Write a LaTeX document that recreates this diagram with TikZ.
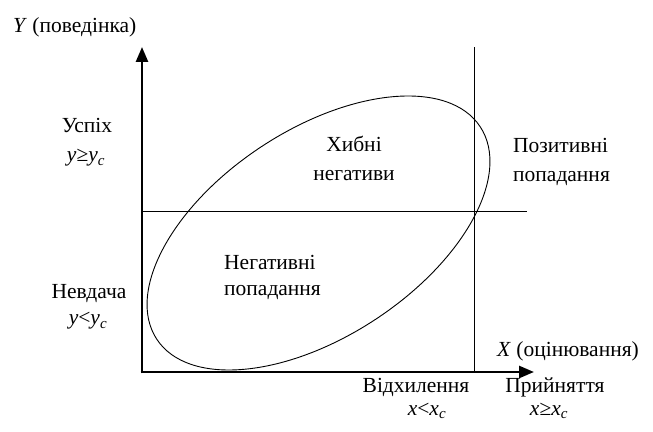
\documentclass[tikz,border=0pt]{standalone}
\usepackage{fontspec}
\setmainfont{Liberation Serif}
\usetikzlibrary{arrows.meta}
\tikzset{
  lbl/.style={inner sep=0pt, font=\fontsize{21.5}{26}\selectfont},
  axis/.style={line width=2.6pt, -{Triangle[length=15pt,width=12pt]}},
  thinline/.style={line width=0.9pt},
}
\begin{document}
\begin{tikzpicture}[x=1pt,y=1pt]
\useasboundingbox (0,0) rectangle (653,431);
% coordinates
\coordinate (O) at (142,59);
\coordinate (Ytip) at (142,384);
\coordinate (Xtip) at (534,59);
\coordinate (Vb) at (474,59);
\coordinate (Vt) at (474,384);
\coordinate (Hl) at (142,220);
\coordinate (Hr) at (527,220);
% ellipse
\draw[thinline, rotate around={33.3:(318.5,198)}] (318.5,198) ellipse [x radius=193.5, y radius=103.5];
% lines
\draw[thinline] (Vb) -- (Vt);
\draw[thinline] (Hl) -- (Hr);
% axes
\draw[axis] ([yshift=-1.3pt]O) -- (Ytip);
\draw[axis] ([xshift=-1.3pt]O) -- (Xtip);
% labels
\node[lbl, anchor=base west] (ylab) at (13,398) {\textit{Y} (поведінка)};
\node[lbl, anchor=base west] (xlab) at (497,74) {\textit{X} (оцінювання)};
\node[lbl, anchor=base] (usp) at (87,298) {Успіх};
\node[lbl, anchor=base] (uspm) at (86,269) {\textit{y}≥\textit{y}\textsubscript{\textit{c}}};
\node[lbl, anchor=base] (nev) at (89,132) {Невдача};
\node[lbl, anchor=base] (nevm) at (88,106) {\textit{y}<\textit{y}\textsubscript{\textit{c}}};
\node[lbl, anchor=base] (hyb) at (354,279) {Хибні};
\node[lbl, anchor=base] (neg) at (354,250) {негативи};
\node[lbl, anchor=base west] (negp) at (224,161) {Негативні};
\node[lbl, anchor=base west] (negp2) at (224,135) {попадання};
\node[lbl, anchor=base west] (poz) at (513,278) {Позитивні};
\node[lbl, anchor=base west] (poz2) at (513,249) {попадання};
\node[lbl, anchor=base] (vid) at (416,38) {Відхилення};
\node[lbl, anchor=base] (vidm) at (427,16) {\textit{x}<\textit{x}\textsubscript{\textit{c}}};
\node[lbl, anchor=base] (pry) at (555,38) {Прийняття};
\node[lbl, anchor=base] (prym) at (549,16) {\textit{x}≥\textit{x}\textsubscript{\textit{c}}};
\end{tikzpicture}
\end{document}
